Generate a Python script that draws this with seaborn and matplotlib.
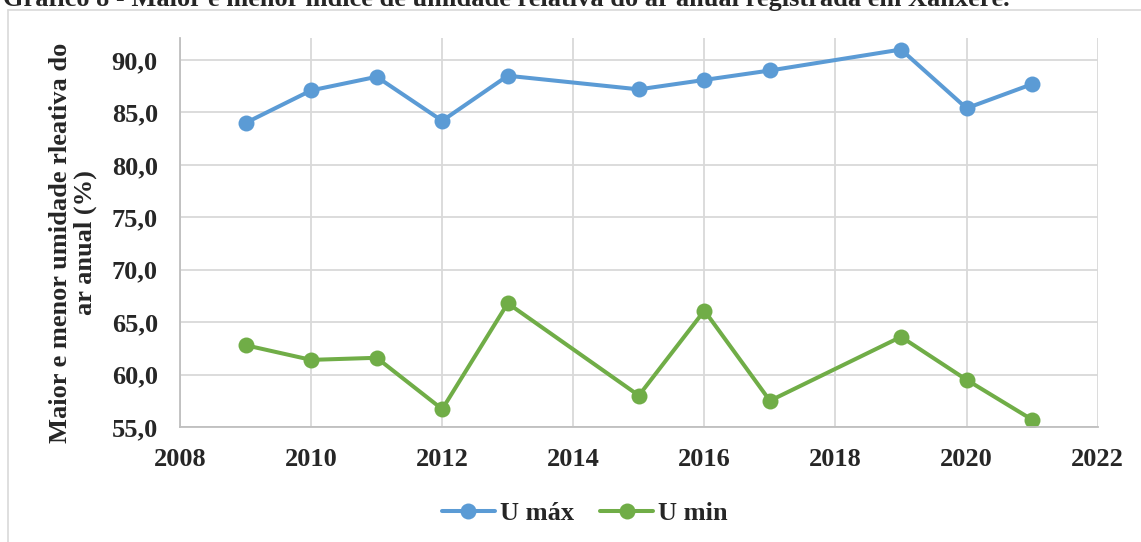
import numpy as np
import pandas as pd
import matplotlib
matplotlib.use("Agg")
import matplotlib.pyplot as plt
from matplotlib.lines import Line2D
import seaborn as sns

# =========================
# DATA
# =========================
anos = [2009, 2010, 2011, 2012, 2013, 2015, 2016, 2017, 2019, 2020, 2021]
u_max = [84.0, 87.1, 88.4, 84.2, 88.5, 87.2, 88.1, 89.0, 91.0, 85.4, 87.7]
u_min = [62.8, 61.4, 61.6, 56.7, 66.8, 58.0, 66.1, 57.5, 63.6, 59.5, 55.7]

series_names = ["U máx", "U min"]
series_colors = ["#5B9BD5", "#70AD47"]

x_ticks = list(range(2008, 2023, 2))
y_ticks = [55.0, 60.0, 65.0, 70.0, 75.0, 80.0, 85.0, 90.0]

titulo = ("Gráfico 8 - Maior e menor índice de umidade relativa "
          "do ar anual registrada em Xanxerê.")
y_label = "Maior e menor umidade rleativa do\nar anual (%)"

df = pd.DataFrame({
    "ano": anos * 2,
    "valor": u_max + u_min,
    "serie": [series_names[0]] * len(anos) + [series_names[1]] * len(anos),
})

# =========================
# STYLE
# =========================
sns.set_style("white")
plt.rcParams["font.family"] = ["Liberation Serif", "DejaVu Serif"]
plt.rcParams["font.weight"] = "bold"

FS = 19

fig = plt.figure(figsize=(11.41, 5.42), dpi=100)
ax = fig.add_axes([0.1578, 0.2122, 0.962 - 0.1578, 0.9299 - 0.2122])

sns.lineplot(
    data=df,
    x="ano",
    y="valor",
    hue="serie",
    palette=dict(zip(series_names, series_colors)),
    marker="o",
    markersize=11.5,
    markeredgewidth=0,
    linewidth=2.9,
    legend=False,
    ax=ax,
)

ax.set_xlim(2008, 2022)
ax.set_ylim(55, 92.1)
ax.set_xticks(x_ticks)
ax.set_yticks(y_ticks)
ax.set_yticklabels([f"{v:.1f}".replace(".", ",") for v in y_ticks])
ax.tick_params(axis="y", length=0, labelsize=FS, pad=16)
ax.tick_params(axis="x", length=0, labelsize=FS, pad=15)
for lab in ax.get_xticklabels() + ax.get_yticklabels():
    lab.set_fontweight("bold")

ax.grid(True, color="#d9d9d9", linewidth=1.3)
ax.set_axisbelow(True)
ax.set_xlabel("")
ax.set_ylabel("")

for side in ["top", "right"]:
    ax.spines[side].set_visible(False)
for side in ["left", "bottom"]:
    ax.spines[side].set_color("#bfbfbf")
    ax.spines[side].set_linewidth(1.3)

# =========================
# LABELS
# =========================
fig.text(
    73 / 1141, 1 - 243 / 542, y_label,
    rotation=90, ha="center", va="center",
    fontsize=FS, fontweight="bold", linespacing=1.1,
)

fig.text(
    3 / 1141, 1 - 6 / 542, titulo,
    ha="left", va="baseline", fontsize=FS, fontweight="bold",
)

# =========================
# LEGEND
# =========================
handles = [
    Line2D([], [], color=c, linewidth=2.9, marker="o",
           markersize=11.5, markeredgewidth=0)
    for c in series_colors
]
fig.legend(
    handles, series_names,
    loc="center", bbox_to_anchor=(585 / 1141, 1 - 513 / 542),
    ncol=2, frameon=False, handlelength=2.0, handletextpad=0.2,
    columnspacing=1.0, prop={"size": FS, "weight": "bold"},
)

# =========================
# CHART BORDER
# =========================
fig.add_artist(Line2D([8 / 1141, 1], [1 - 10 / 542, 1 - 10 / 542],
                      color="#d9d9d9", linewidth=1.2))
fig.add_artist(Line2D([8 / 1141, 8 / 1141], [0, 1 - 10 / 542],
                      color="#d9d9d9", linewidth=1.2))

fig.savefig("out.png", dpi=100)
plt.close(fig)
